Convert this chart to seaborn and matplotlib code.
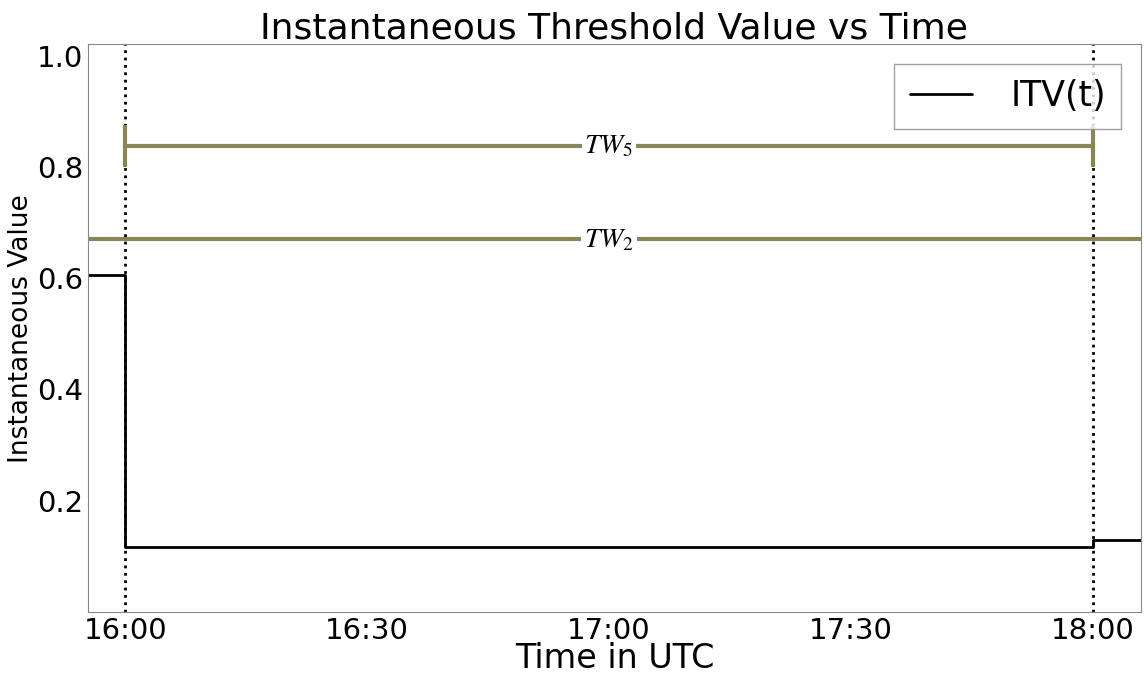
import pandas as pd
import seaborn as sns
import matplotlib.pyplot as plt
import matplotlib.dates as mdates

# step signal ITV(t)
itv_times = ["15:55", "16:00", "18:00", "18:06"]
itv_values = [0.605, 0.117, 0.13, 0.13]

# threshold windows
tw5_start, tw5_end, tw5_level = "16:00", "18:00", 0.838
tw2_level = 0.67
marker_times = ["16:00", "18:00"]

day = "2020-01-01 "
df = pd.DataFrame({"time": pd.to_datetime([day + t for t in itv_times]),
                   "value": itv_values})

sns.set_style("white")
plt.rcParams["font.family"] = ["DejaVu Sans"]
plt.rcParams["mathtext.fontset"] = "stix"
plt.rcParams["text.color"] = "black"
plt.rcParams["axes.labelcolor"] = "black"
plt.rcParams["xtick.labelcolor"] = "black"
plt.rcParams["ytick.labelcolor"] = "black"

fig, ax = plt.subplots(figsize=(11.44, 6.74), dpi=100)

sns.lineplot(data=df, x="time", y="value", drawstyle="steps-post",
             color="black", linewidth=2, label="ITV(t)", ax=ax)

olive = "#8a8656"
t0 = pd.Timestamp(day + tw5_start)
t1 = pd.Timestamp(day + tw5_end)
ax.plot([t0, t1], [tw5_level, tw5_level], color=olive, linewidth=3)
ax.plot([t0, t1], [tw5_level, tw5_level], color=olive, linestyle="none",
        marker="|", markersize=30, markeredgewidth=3, zorder=5)
ax.axhline(tw2_level, color=olive, linewidth=3)

tmid = t0 + (t1 - t0) / 2
box = dict(facecolor="white", edgecolor="none", pad=2)
ax.text(tmid, tw5_level, r"$TW_5$", fontsize=20, ha="center", va="center", bbox=box)
ax.text(tmid, tw2_level, r"$TW_2$", fontsize=20, ha="center", va="center", bbox=box)

for t in marker_times:
    ax.axvline(pd.Timestamp(day + t), color="black", linestyle=":", linewidth=2)

ax.set_xlim(pd.Timestamp(day + "15:55:24"), pd.Timestamp(day + "18:05:57"))
ax.set_ylim(0, 1.02)
ax.set_yticks([0.2, 0.4, 0.6, 0.8, 1.0])
ax.xaxis.set_major_locator(mdates.MinuteLocator(byminute=[0, 30]))
ax.xaxis.set_major_formatter(mdates.DateFormatter("%H:%M"))
ax.tick_params(labelsize=21, direction="in", length=3, color="#bbbbbb")

for s in ax.spines.values():
    s.set_color("#888888")

ax.set_title("Instantaneous Threshold Value vs Time", fontsize=26, pad=4)
ax.set_xlabel("Time in UTC", fontsize=24, labelpad=-2)
ax.set_ylabel("Instantaneous Value", fontsize=19, labelpad=2)

leg = ax.legend(loc="upper right", fontsize=25, frameon=True, fancybox=False,
                handlelength=1.8, handletextpad=1.1, borderpad=0.45,
                borderaxespad=0.55)
leg.get_frame().set_edgecolor("#888888")

plt.subplots_adjust(left=0.077, right=0.997, top=0.934, bottom=0.092)
plt.savefig("out.png")
